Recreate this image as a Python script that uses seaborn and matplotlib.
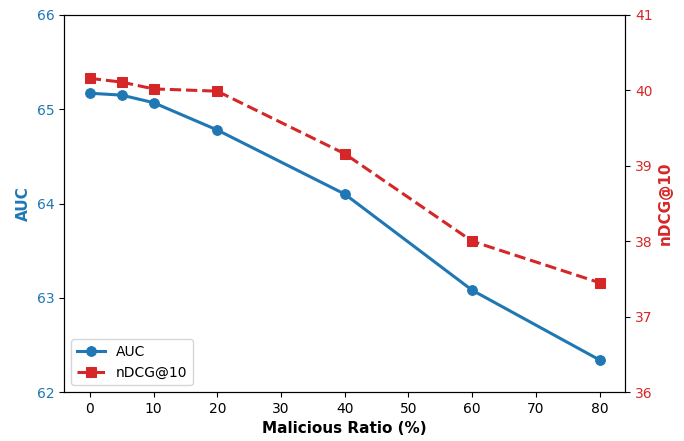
import matplotlib
matplotlib.use("Agg")
import matplotlib.pyplot as plt
import seaborn as sns
import pandas as pd

ratios = [0, 5, 10, 20, 40, 60, 80]
auc = [65.17, 65.15, 65.07, 64.78, 64.10, 63.08, 62.34]
ndcg = [40.16, 40.11, 40.02, 39.99, 39.16, 38.00, 37.45]

plt.rcParams['font.family'] = ['DejaVu Sans']

blue = '#1f77b4'
red = '#d62728'

fig = plt.figure(figsize=(6.84, 4.41), dpi=100)
ax = fig.add_axes([0.094, 0.111, 0.82, 0.855])
ax2 = ax.twinx()

df = pd.DataFrame({'ratio': ratios, 'auc': auc, 'ndcg': ndcg})
sns.lineplot(data=df, x='ratio', y='auc', ax=ax, color=blue, marker='o', markersize=7,
             linewidth=2.2, markeredgecolor=blue, label='AUC', legend=False)
sns.lineplot(data=df, x='ratio', y='ndcg', ax=ax2, color=red, marker='s', markersize=7,
             linewidth=2.2, linestyle='--', markeredgecolor=red, label='nDCG@10', legend=False)

ax.set_ylim(62, 66)
ax2.set_ylim(36, 41)
ax.set_xlim(-4, 84)
ax.set_xticks(range(0, 81, 10))
ax.set_yticks([62, 63, 64, 65, 66])
ax2.set_yticks([36, 37, 38, 39, 40, 41])

ax.set_xlabel('Malicious Ratio (%)', fontsize=11, fontweight='bold', color='black')
ax.set_ylabel('AUC', fontsize=11, fontweight='bold', color=blue)
ax2.set_ylabel('nDCG@10', fontsize=11, fontweight='bold', color=red)
ax.tick_params(axis='y', labelcolor=blue, labelsize=10)
ax2.tick_params(axis='y', labelcolor=red, labelsize=10)
ax.tick_params(axis='x', labelsize=10)

h1, l1 = ax.get_legend_handles_labels()
h2, l2 = ax2.get_legend_handles_labels()
ax.legend(h1 + h2, l1 + l2, loc='lower left', fontsize=10)

fig.savefig('out.png', dpi=100)
